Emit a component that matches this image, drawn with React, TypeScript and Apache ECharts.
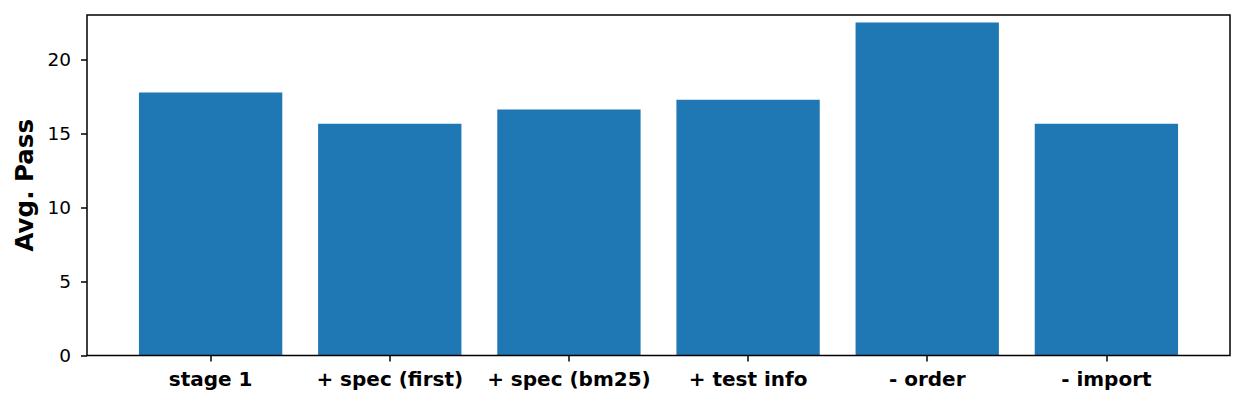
import React, { useEffect, useRef } from "react";
import * as echarts from "echarts";

const categories = ["stage 1", "+ spec (first)", "+ spec (bm25)", "+ test info", "- order", "- import"];
const avgPass = [17.77, 15.66, 16.61, 17.28, 22.5, 15.66];
const yTicks = { min: 0, max: 23, interval: 5 };
const yLabel = "Avg. Pass";

export default function App() {
  const ref = useRef<HTMLDivElement>(null);
  useEffect(() => {
    if (!ref.current) return;
    const chart = echarts.init(ref.current, null, { renderer: "svg" });
    const font = "DejaVu Sans";
    // frame: 87..1230 x 15..355.5; category unit = 1143 / 6.38
    const frameLeft = 87;
    const frameWidth = 1143;
    const top = 15;
    const height = 340.5;
    const unit = frameWidth / (categories.length - 1 + 0.8 + 2 * 0.05 * (categories.length - 1 + 0.8));
    const pad = (0.05 * (categories.length - 1 + 0.8) + 0.4 - 0.5) * unit;
    chart.setOption({
      animation: false,
      textStyle: { fontFamily: font },
      grid: [
        { left: frameLeft + pad, width: unit * categories.length, top, height, containLabel: false },
        {
          left: frameLeft,
          width: frameWidth,
          top,
          height,
          show: true,
          borderColor: "#000",
          borderWidth: 1.5,
          backgroundColor: "transparent",
          z: 10,
        },
      ],
      xAxis: [
        {
          type: "category",
          gridIndex: 0,
          data: categories,
          axisLine: { show: false },
          axisTick: { show: true, alignWithLabel: true, length: 6, lineStyle: { color: "#000", width: 1.5 } },
          axisLabel: { interval: 0, color: "#000", fontSize: 20, fontWeight: "bold", fontFamily: font, margin: 13 },
          splitLine: { show: false },
        },
        { type: "value", gridIndex: 1, min: 0, max: 1, show: false },
      ],
      yAxis: [
        { type: "value", gridIndex: 0, min: yTicks.min, max: yTicks.max, show: false },
        {
          type: "value",
          gridIndex: 1,
          min: yTicks.min,
          max: yTicks.max,
          interval: yTicks.interval,
          name: yLabel,
          nameLocation: "middle",
          nameRotate: 90,
          nameGap: 50,
          nameTextStyle: { color: "#000", fontSize: 24.5, fontWeight: "bold", fontFamily: font },
          axisLine: { show: false },
          axisTick: { show: true, length: 6, lineStyle: { color: "#000", width: 1.5 } },
          axisLabel: { color: "#000", fontSize: 18.5, fontFamily: font, margin: 16, showMaxLabel: false },
          splitLine: { show: false },
        },
      ],
      series: [
        {
          type: "bar",
          xAxisIndex: 0,
          yAxisIndex: 0,
          data: avgPass,
          barWidth: "80%",
          itemStyle: { color: "#1f77b4" },
        },
      ],
    });
    return () => chart.dispose();
  }, []);
  return <div ref={ref} style={{ position: "absolute", left: 0, top: 0, width: 1245, height: 405 }} />;
}
